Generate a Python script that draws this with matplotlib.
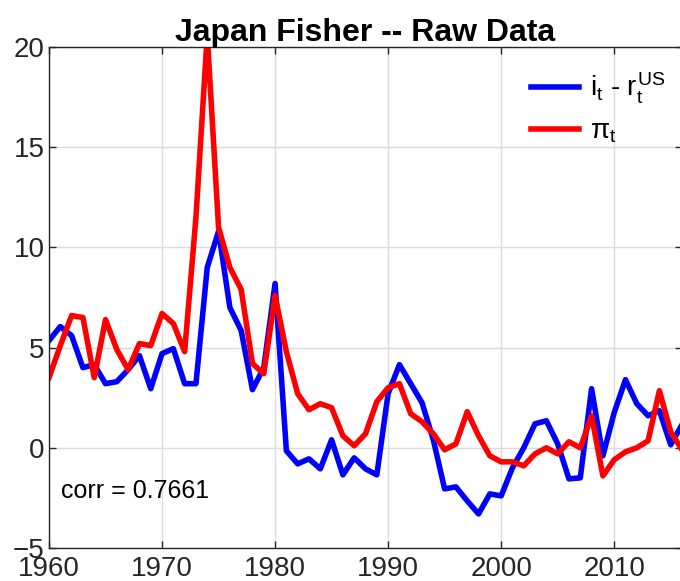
import numpy as np
import matplotlib
matplotlib.use('Agg')
from matplotlib import pyplot as plt

plt.rcParams['font.family'] = ['Liberation Sans', 'DejaVu Sans']
plt.rcParams['mathtext.fontset'] = 'custom'
plt.rcParams['mathtext.rm'] = 'Liberation Sans'
plt.rcParams['mathtext.it'] = 'Liberation Sans'
plt.rcParams['mathtext.sf'] = 'Liberation Sans'

years = list(range(1960, 2017))

# i_t - r_t^US
rate_gap = [5.35, 6.05, 5.6, 4.0, 4.15, 3.2, 3.3, 3.9, 4.6, 2.95,
            4.7, 4.95, 3.2, 3.2, 9.0, 10.8, 7.0, 5.85, 2.9, 4.0,
            8.2, -0.15, -0.8, -0.55, -1.05, 0.4, -1.35, -0.5, -1.05, -1.35,
            2.7, 4.15, 3.2, 2.25, 0.4, -2.05, -1.95, -2.65, -3.3, -2.3,
            -2.4, -1.0, 0.0, 1.2, 1.35, 0.2, -1.55, -1.5, 2.95, -0.4,
            1.75, 3.4, 2.2, 1.6, 1.85, 0.15, 1.15]

# pi_t
inflation = [3.5, 5.1, 6.6, 6.5, 3.5, 6.4, 4.9, 3.9, 5.2, 5.1,
             6.7, 6.2, 4.8, 11.5, 20.6, 11.0, 9.0, 7.9, 4.2, 3.7,
             7.6, 4.8, 2.7, 1.9, 2.2, 2.0, 0.6, 0.1, 0.7, 2.3,
             3.0, 3.2, 1.7, 1.3, 0.7, -0.1, 0.2, 1.8, 0.6, -0.4,
             -0.7, -0.7, -0.9, -0.3, 0.0, -0.3, 0.3, 0.0, 1.6, -1.4,
             -0.6, -0.2, 0.0, 0.35, 2.85, 0.8, -0.1]

corr_text = 'corr = 0.7661'

fig = plt.figure(figsize=(6.8, 5.81), dpi=100)
ax = fig.add_axes([49/680, 1 - 548/581, (682 - 49)/680, (548 - 47)/581])

ax.plot(years, rate_gap, color='#0000ff', lw=4, label=r'$i_t$ - $r_t^{US}$')
ax.plot(years, inflation, color='#ff0000', lw=4, label=r'$\pi_t$')

ax.set_xlim(1960, 2016)
ax.set_ylim(-5, 20)
ax.set_xticks(range(1960, 2016, 10))
ax.set_yticks(range(-5, 21, 5))
ax.grid(True, color='#dcdcdc', lw=1)
ax.set_axisbelow(True)
ax.tick_params(direction='in', length=5, width=1, colors='#262626',
               labelsize=20, top=True, right=True, pad=3)
ax.tick_params(axis='x', pad=6)
for s in ax.spines.values():
    s.set_color('#262626')
    s.set_linewidth(1)

ax.set_title('Japan Fisher -- Raw Data', fontsize=23, fontweight='bold', pad=4)
ax.text(1961.05, -2.5, corr_text, fontsize=18, va='baseline', color='black')

leg = ax.legend(loc='upper right', bbox_to_anchor=(1.013, 1.003), frameon=False,
                fontsize=20, handlelength=1.7, handletextpad=0.4, labelspacing=0.45)

plt.savefig('out.png', dpi=100)
